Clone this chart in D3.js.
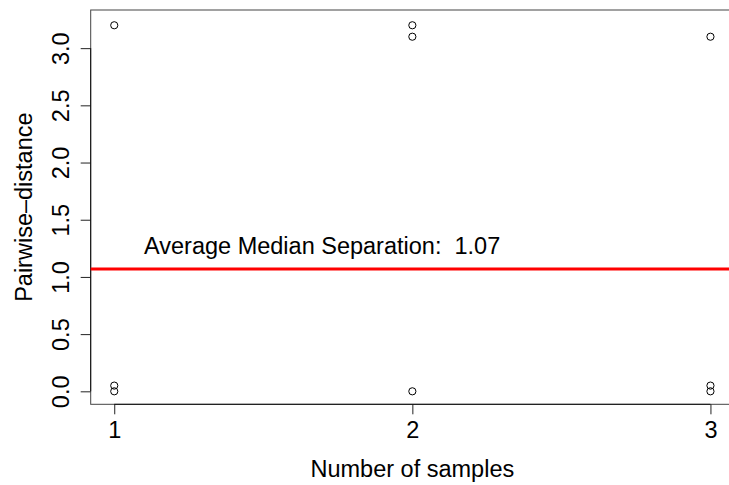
<!DOCTYPE html>
<html>
<head>
<meta charset="utf-8">
<script src="https://cdn.jsdelivr.net/npm/d3@7"></script>
<style>
  html, body { margin: 0; padding: 0; background: #fff; }
  svg text { font-family: "Liberation Sans", Arial, Helvetica, sans-serif; fill: #000; }
</style>
</head>
<body>
<svg id="chart" width="729" height="485"></svg>
<script>
// Pairwise distances observed for each number of samples
const sampleCounts = [1, 1, 1, 2, 2, 2, 3, 3, 3];
const pairwiseDistances = [3.2, 0.05, 0.0, 3.2, 3.1, 0.0, 3.1, 0.05, 0.0];
const xTicks = [1, 2, 3];
const yTicks = [0.0, 0.5, 1.0, 1.5, 2.0, 2.5, 3.0];
const averageMedianSeparation = 1.07;

const fontSize = 23.5;
const svg = d3.select("#chart");
const plot = { left: 90.7, right: 734, top: 10, bottom: 404.3 };

const x = d3.scaleLinear().domain([0.921, 3.079]).range([plot.left, plot.right]);
const y = d3.scaleLinear().domain([-0.1135, 3.3335]).range([plot.bottom, plot.top]);

// Plot frame
svg.append("rect")
  .attr("x", plot.left).attr("y", plot.top)
  .attr("width", plot.right - plot.left).attr("height", plot.bottom - plot.top)
  .attr("fill", "none").attr("stroke", "#444").attr("stroke-width", 1);

// Bottom axis
const xAxis = svg.append("g").attr("transform", `translate(0,${plot.bottom})`)
  .call(d3.axisBottom(x).tickValues(xTicks).tickFormat(d3.format("d")).tickSize(10).tickPadding(7));
// Left axis
const yAxis = svg.append("g").attr("transform", `translate(${plot.left},0)`)
  .call(d3.axisLeft(y).tickValues(yTicks).tickFormat(d3.format(".1f")).tickSize(10).tickPadding(0));

[xAxis, yAxis].forEach(g => {
  g.select(".domain").remove();
  g.selectAll(".tick line").attr("stroke", "#222");
  g.selectAll("text").attr("font-size", fontSize)
    .style("font-family", '"Liberation Sans", Arial, Helvetica, sans-serif');
});
// Axis lines span only the tick range
svg.append("line")
  .attr("x1", x(xTicks[0])).attr("x2", x(xTicks[xTicks.length - 1]))
  .attr("y1", plot.bottom).attr("y2", plot.bottom)
  .attr("stroke", "#111");
svg.append("line")
  .attr("x1", plot.left).attr("x2", plot.left)
  .attr("y1", y(yTicks[0])).attr("y2", y(yTicks[yTicks.length - 1]))
  .attr("stroke", "#111");

xAxis.selectAll("text").attr("dy", null).attr("y", 17).attr("dominant-baseline", "hanging");
// Rotated tick labels on the y axis
yAxis.selectAll(".tick text")
  .attr("x", null).attr("dy", null).attr("text-anchor", "middle")
  .attr("transform", "translate(-22,0) rotate(-90)");

// Points
svg.append("g").selectAll("circle")
  .data(pairwiseDistances)
  .join("circle")
  .attr("cx", (d, i) => x(sampleCounts[i]))
  .attr("cy", d => y(d))
  .attr("r", 3.6)
  .attr("fill", "none")
  .attr("stroke", "#000")
  .attr("stroke-width", 1);

// Average median separation line
svg.append("line")
  .attr("x1", plot.left).attr("x2", plot.right)
  .attr("y1", y(averageMedianSeparation)).attr("y2", y(averageMedianSeparation))
  .attr("stroke", "#ff0000").attr("stroke-width", 3);

svg.append("text")
  .attr("x", 144).attr("y", y(averageMedianSeparation) - 15)
  .attr("font-size", fontSize)
  .attr("xml:space", "preserve")
  .text("Average Median Separation:  " + d3.format(".2f")(averageMedianSeparation));

// Axis titles
svg.append("text")
  .attr("x", (plot.left + plot.right) / 2).attr("y", 477)
  .attr("text-anchor", "middle").attr("font-size", fontSize)
  .text("Number of samples");
svg.append("text")
  .attr("transform", `translate(32,${(plot.top + plot.bottom) / 2}) rotate(-90)`)
  .attr("text-anchor", "middle").attr("font-size", fontSize)
  .text("Pairwise\u2013distance");
</script>
</body>
</html>
